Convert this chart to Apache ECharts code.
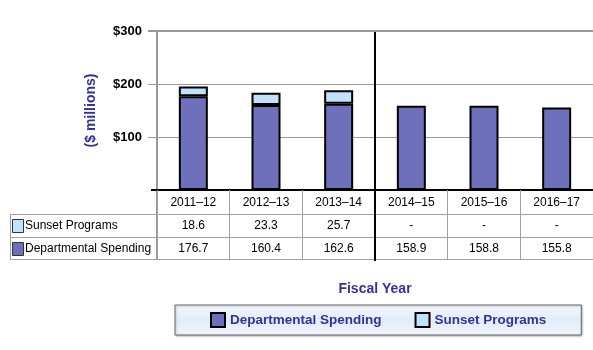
<!DOCTYPE html>
<html>
<head>
<meta charset="utf-8">
<script src="https://cdn.jsdelivr.net/npm/echarts@6/dist/echarts.min.js"></script>
<style>
html,body{margin:0;padding:0;background:#fff;}
#c{width:593px;height:350px;}
</style>
</head>
<body>
<div id="c"></div>
<script>
var categories = ['2011–12', '2012–13', '2013–14', '2014–15', '2015–16', '2016–17'];
var sunsetPrograms = [18.6, 23.3, 25.7, null, null, null];
var departmentalSpending = [176.7, 160.4, 162.6, 158.9, 158.8, 155.8];
var yTicks = [0, 100, 200, 300];
var seriesNames = ['Departmental Spending', 'Sunset Programs'];

var DEPT = '#6e70bb';
var SUN = '#c0e0fc';
var NAVY = '#33339a';
var FONT = 'Liberation Sans';

function fmt(v){ return v == null ? '-' : v.toFixed(1); }

var chart = echarts.init(document.getElementById('c'), null, {renderer:'canvas'});
var option = {
  animation: false,
  textStyle: {fontFamily: FONT},
  grid: {left: 157, top: 31, width: 440, height: 159, containLabel: false},
  xAxis: {
    type: 'category',
    data: categories,
    name: 'Fiscal Year',
    nameLocation: 'middle',
    nameGap: 92,
    nameTextStyle: {color: NAVY, fontSize: 14, fontWeight: 'bold', fontFamily: FONT},
    axisLine: {show: true, lineStyle: {color: '#000', width: 2}},
    axisTick: {show: true, length: 69, lineStyle: {color: '#a0a0a0', width: 1}},
    axisLabel: {
      margin: 1,
      interval: 0,
      formatter: function(v, i){
        return v + '\n' + fmt(sunsetPrograms[i]) + '\n' + fmt(departmentalSpending[i]);
      },
      color: '#000',
      fontSize: 12,
      lineHeight: 23,
      fontFamily: FONT
    }
  },
  yAxis: {
    type: 'value',
    min: yTicks[0],
    max: yTicks[yTicks.length-1],
    interval: 100,
    name: '($ millions)',
    nameLocation: 'middle',
    nameGap: 59,
    nameTextStyle: {color: NAVY, fontSize: 14, fontWeight: 'bold', fontFamily: FONT},
    axisLine: {show: true, lineStyle: {color: '#999', width: 1}},
    axisTick: {show: false},
    axisLabel: {
      margin: 15,
      color: '#000',
      fontWeight: 'bold',
      fontSize: 13,
      fontFamily: FONT,
      formatter: function(v){ return v === 0 ? '' : '$' + v; }
    },
    splitLine: {show: true, lineStyle: {color: '#999', width: 1}}
  },
  legend: {
    data: seriesNames,
    icon: 'rect',
    left: 175,
    top: 305,
    padding: [7, 35, 7, 35],
    itemGap: 33,
    itemWidth: 14,
    itemHeight: 14,
    borderColor: '#666',
    borderWidth: 1,
    shadowColor: 'rgba(0,0,0,0.25)',
    shadowBlur: 2,
    shadowOffsetX: 1,
    shadowOffsetY: 1,
    backgroundColor: new echarts.graphic.LinearGradient(0, 0, 0, 1, [
      {offset: 0, color: '#f4f8fe'},
      {offset: 0.5, color: '#e2ecfa'},
      {offset: 1, color: '#f0f5fd'}
    ]),
    textStyle: {color: NAVY, fontSize: 13.5, fontWeight: 'bold', fontFamily: FONT},
    itemStyle: {borderColor: '#000', borderWidth: 2}
  },
  series: [
    {
      name: seriesNames[0],
      type: 'bar',
      stack: 'total',
      barWidth: 29,
      data: departmentalSpending,
      itemStyle: {color: DEPT, borderColor: '#000', borderWidth: 2},
      markLine: {
        silent: true,
        symbol: 'none',
        label: {show: false},
        lineStyle: {color: '#999', width: 2, type: 'solid'},
        data: [{yAxis: 300}]
      }
    },
    {
      name: seriesNames[1],
      type: 'bar',
      stack: 'total',
      barWidth: 29,
      data: sunsetPrograms,
      itemStyle: {color: SUN, borderColor: '#000', borderWidth: 2}
    }
  ]
};
chart.setOption(option);

// Table lines and row headers, positioned from the axes
var x0 = chart.convertToPixel({xAxisIndex: 0}, 0);
var x1 = chart.convertToPixel({xAxisIndex: 0}, 1);
var band = x1 - x0;
var leftEdge = x0 - band / 2;
var rightEdge = leftEdge + band * categories.length;
var yBase = chart.convertToPixel({yAxisIndex: 0}, 0);
var yTop = chart.convertToPixel({yAxisIndex: 0}, 300);
var rowH = 23;
var r1 = yBase + 24, r2 = r1 + rowH, r3 = r2 + rowH - 1;
var tableLeft = 10;
var g = [];
[r1, r2, r3].forEach(function(y){
  g.push({type:'line', shape:{x1: tableLeft, y1: y + 0.5, x2: rightEdge, y2: y + 0.5}, style:{stroke:'#a0a0a0', lineWidth:1}, z: 10});
});
g.push({type:'line', shape:{x1: tableLeft + 0.5, y1: r1, x2: tableLeft + 0.5, y2: r3}, style:{stroke:'#a0a0a0', lineWidth:1}, z: 10});
g.push({type:'line', shape:{x1: leftEdge - 0.5, y1: yTop, x2: leftEdge - 0.5, y2: r3}, style:{stroke:'#999', lineWidth:1}, z: 10});
// split between actual and planned years
var splitX = Math.round(leftEdge + band * 3);
g.push({type:'line', shape:{x1: splitX, y1: yTop + 1, x2: splitX, y2: r3 + 2}, style:{stroke:'#000', lineWidth:2}, z: 12});
// top gridline extension and baseline extension to the left
g.push({type:'line', shape:{x1: 148, y1: yTop, x2: leftEdge, y2: yTop}, style:{stroke:'#999', lineWidth:2}, z: 10});
[100, 200].forEach(function(v){
  var y = Math.round(chart.convertToPixel({yAxisIndex: 0}, v)) + 0.5;
  g.push({type:'line', shape:{x1: 148, y1: y, x2: leftEdge, y2: y}, style:{stroke:'#999', lineWidth:1}, z: 10});
});
g.push({type:'line', shape:{x1: 151, y1: yBase, x2: leftEdge, y2: yBase}, style:{stroke:'#000', lineWidth:2}, z: 10});
// row headers
var rows = [[seriesNames[1], SUN, r1], [seriesNames[0], DEPT, r2]];
rows.forEach(function(r){
  g.push({type:'rect', shape:{x: 12.5, y: r[2] + 5.5, width: 11, height: 13}, style:{fill: r[1], stroke:'#333', lineWidth:1}, z: 10});
  g.push({type:'text', x: 25, y: r[2] + rowH / 2 + 0.5, style:{text: r[0], fill:'#000', font: '12px "' + FONT + '"', textVerticalAlign:'middle', verticalAlign:'middle'}, z: 10});
});
chart.setOption({graphic: g});
</script>
</body>
</html>
